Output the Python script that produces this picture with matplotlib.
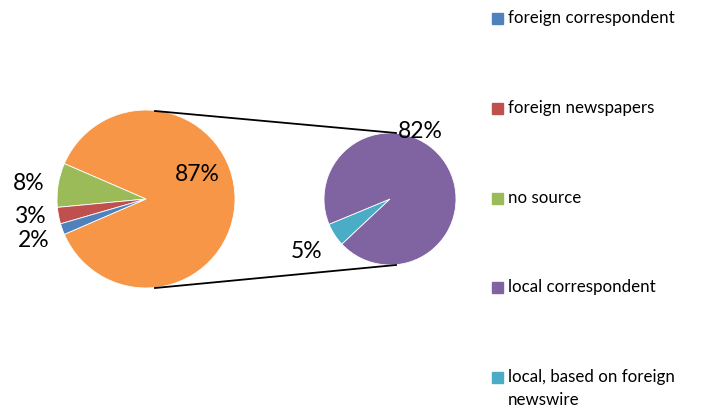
import matplotlib.pyplot as plt
from matplotlib.patches import Rectangle

plt.rcParams['font.family'] = ['Lato', 'DejaVu Sans']

# main pie: "other" slice is the sum of the two local sources
main_labels = ['local (other)', 'no source', 'foreign newspapers', 'foreign correspondent']
main_values = [87, 8, 3, 2]
main_colors = ['#F79646', '#9BBB59', '#C0504D', '#4F81BD']

sub_labels = ['local, based on foreign newswire', 'local correspondent']
sub_values = [5, 82]
sub_colors = ['#4BACC6', '#8064A2']

legend_labels = ['foreign correspondent', 'foreign newspapers', 'no source',
                 'local correspondent', 'local, based on foreign\nnewswire']
legend_colors = ['#4F81BD', '#C0504D', '#9BBB59', '#8064A2', '#4BACC6']

H = 412
fig = plt.figure(figsize=(7.05, 4.12), dpi=100)
ax = fig.add_axes([0, 0, 1, 1])

# main pie, "other" centred on the right
ax.pie(main_values, colors=main_colors, center=(146, H - 199), radius=89,
       startangle=-87 / 100 * 180, counterclock=True,
       wedgeprops=dict(linewidth=0.6, edgecolor='white'))

# secondary pie
ax.pie(sub_values, colors=sub_colors, center=(390, H - 199), radius=66,
       startangle=202.5, counterclock=True,
       wedgeprops=dict(linewidth=0.6, edgecolor='white'))

# connector lines
ax.plot([155, 396], [H - 111, H - 133], color='black', lw=1.3)
ax.plot([155, 396], [H - 288, H - 265], color='black', lw=1.3)

# data labels
fs = 16.5
ax.text(197, H - 174, '87%', fontsize=fs, ha='center', va='center')
ax.text(29, H - 183, '8%', fontsize=fs, ha='center', va='center')
ax.text(30, H - 216, '3%', fontsize=fs, ha='center', va='center')
ax.text(34, H - 240, '2%', fontsize=fs, ha='center', va='center')
ax.text(420, H - 131, '82%', fontsize=fs, ha='center', va='center')
ax.text(307, H - 252, '5%', fontsize=fs, ha='center', va='center')

# legend
ys = [18, 108, 198, 287, 377]
for y, lab, c in zip(ys, legend_labels, legend_colors):
    ax.add_patch(Rectangle((492, H - y - 5.5), 11, 11, color=c))
    if '\n' in lab:
        ax.text(508, H - y + 8, lab, fontsize=12.2, ha='left', va='top',
                linespacing=1.55)
    else:
        ax.text(508, H - y, lab, fontsize=12.2, ha='left', va='center')

ax.set_xlim(0, 705)
ax.set_ylim(0, H)
ax.set_aspect('auto')
ax.axis('off')

fig.savefig('out.png', dpi=100, facecolor='white')
